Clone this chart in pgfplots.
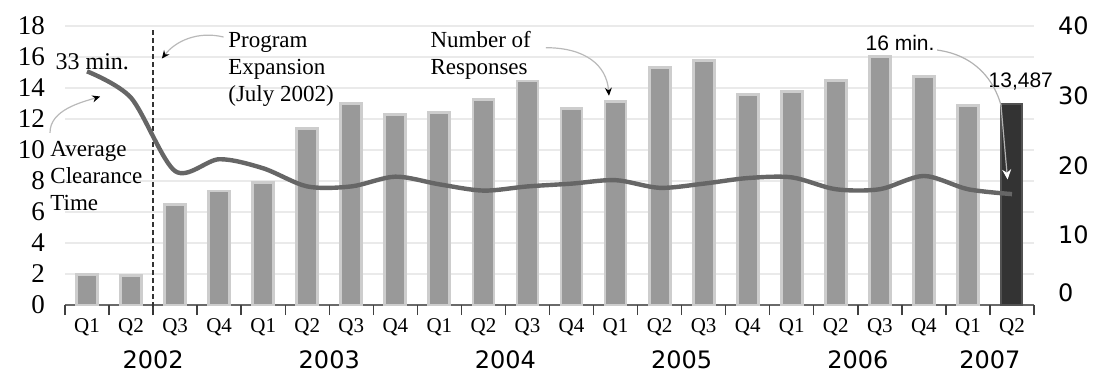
\documentclass[border=0pt]{standalone}
\usepackage{fontspec}
\setmainfont{Liberation Serif}
\newfontfamily\dejavu{DejaVu Sans}
\newfontfamily\arial{Liberation Sans}
\usepackage{pgfplots}
\pgfplotsset{compat=1.18}
\usetikzlibrary{arrows.meta}
\definecolor{barfill}{HTML}{999999}
\definecolor{barhalo}{HTML}{CDCDCD}
\definecolor{lastbar}{HTML}{333333}
\definecolor{linecol}{HTML}{666666}
\definecolor{gridcol}{HTML}{EAEAEA}
\definecolor{axiscol}{HTML}{6A6A6A}
\tikzset{annot/.style={draw=gray!55, line width=0.6pt, -{Stealth[length=4pt,width=3.5pt,color=black]}},
  yr/.style={font=\dejavu\fontsize{12}{14}\selectfont}}
\begin{document}
\begin{tikzpicture}
\begin{axis}[
  scale only axis, width=484.5pt, height=139.5pt,
  xmin=-0.5, xmax=21.5, ymin=0, ymax=18,
  clip=false,
  axis x line*=bottom, axis y line*=left,
  x axis line style={draw=axiscol, line width=1.3pt, -},
  y axis line style={draw=none},
  ytick={0,2,...,18},
  ymajorgrids, grid style={draw=gridcol, line width=0.9pt},
  major tick length=0pt,
  xtick={0,...,21},
  xticklabels={Q1,Q2,Q3,Q4,Q1,Q2,Q3,Q4,Q1,Q2,Q3,Q4,Q1,Q2,Q3,Q4,Q1,Q2,Q3,Q4,Q1,Q2},
  extra x ticks={-0.5,0.5,...,21.5},
  extra x tick labels={},
  extra x tick style={major tick length=5pt, tick align=outside, tick style={draw=black!75, line width=0.7pt}, grid=none},
  xticklabel style={font=\fontsize{10.5}{12}\selectfont, yshift=-3.5pt},
  yticklabel style={font=\fontsize{13.5}{15}\selectfont, xshift=-6.5pt},
  /pgf/number format/assume math mode=true,
]
\addplot[ybar, bar width=10.5pt, fill=barfill, draw=barhalo, line width=1.4pt] coordinates {
(0,1.95) (1,1.9) (2,6.5) (3,7.35) (4,7.9) (5,11.4) (6,13.0) (7,12.3) (8,12.4) (9,13.25) (10,14.45)
(11,12.7) (12,13.15) (13,15.3) (14,15.75) (15,13.6) (16,13.75) (17,14.5) (18,16.05) (19,14.75) (20,12.85)
};
\addplot[ybar, bar width=10.5pt, fill=lastbar, draw=lastbar!85!white, line width=1.0pt] coordinates {(21,13.0)};
\draw[black!80, line width=0.7pt, dash pattern=on 2.5pt off 1.5pt] (axis cs:1.5,-0.65) -- (axis cs:1.5,17.8);
\node[font=\fontsize{12}{14}\selectfont, inner sep=0pt] at (axis cs:0.12,15.68) {33 min.};
\node[align=left, anchor=west, font=\fontsize{11.5}{13.5}\selectfont, inner sep=0pt] at (axis cs:-0.84,8.3) {Average\\Clearance\\Time};
\node[align=left, anchor=west, font=\fontsize{11.5}{13.5}\selectfont, inner sep=0pt] at (axis cs:3.2,15.2) {Program\\Expansion\\(July 2002)};
\node[align=left, anchor=west, font=\fontsize{11.5}{13.5}\selectfont, inner sep=0pt] at (axis cs:7.79,16.13) {Number of\\Responses};
\node[font=\arial\fontsize{10.5}{12}\selectfont, inner sep=0pt] at (axis cs:18.46,16.9) {16 min.};
\node[font=\arial\fontsize{10.5}{12}\selectfont, inner sep=0pt] at (axis cs:21.2,14.4) {13,487};
\draw[annot] (axis cs:-0.84,11.1) .. controls (axis cs:-0.85,12.6) and (axis cs:-0.1,13.1) .. (axis cs:0.3,13.45);
\draw[annot] (axis cs:3.1,17.29) .. controls (axis cs:2.5,17.7) and (axis cs:2.0,17.0) .. (axis cs:1.7,15.9);
\draw[annot] (axis cs:10.42,16.6) .. controls (axis cs:11.3,16.6) and (axis cs:11.8,15.5) .. (axis cs:11.85,13.5);
\draw[draw=gray!60, line width=0.6pt, -{Stealth[length=5pt,width=4.5pt,color=white]}] (axis cs:19.3,16.45) .. controls (axis cs:20.2,16.1) and (axis cs:20.6,14.4) .. (axis cs:20.75,12.9) -- (axis cs:20.9,8.1);
\node[yr] at (axis cs:1.5,-3.55) {2002};
\node[yr] at (axis cs:5.5,-3.55) {2003};
\node[yr] at (axis cs:9.5,-3.55) {2004};
\node[yr] at (axis cs:13.5,-3.55) {2005};
\node[yr] at (axis cs:17.5,-3.55) {2006};
\node[yr] at (axis cs:20.5,-3.55) {2007};
\end{axis}
\begin{axis}[
  scale only axis, width=484.5pt, height=139.5pt,
  xmin=-0.5, xmax=21.5, ymin=0, ymax=40,
  clip=false,
  axis y line*=right, axis x line=none,
  y axis line style={draw=none},
  major tick length=0pt,
  ytick={10,20,30,40},
  yticklabel style={font=\dejavu\fontsize{12}{14}\selectfont, anchor=west, xshift=8.5pt},
  /pgf/number format/assume math mode=true,
]
\addplot[linecol, line width=2.2pt, smooth, tension=0.5, mark=none] coordinates {
(0,33.5) (1,29.7) (2,19.2) (3,20.9) (4,19.6) (5,17.0) (6,17.0) (7,18.4) (8,17.3) (9,16.4) (10,17.0)
(11,17.4) (12,17.9) (13,16.8) (14,17.4) (15,18.2) (16,18.3) (17,16.6) (18,16.6) (19,18.5) (20,16.6) (21,15.9)
};
\node[anchor=west, xshift=8.5pt, font=\dejavu\fontsize{12}{14}\selectfont] at (axis cs:21.5,1.7) {0};
\end{axis}
\pgfresetboundingbox
\path (-32.5pt,-35.5pt) rectangle (514pt,152.5pt);
\end{tikzpicture}
\end{document}
